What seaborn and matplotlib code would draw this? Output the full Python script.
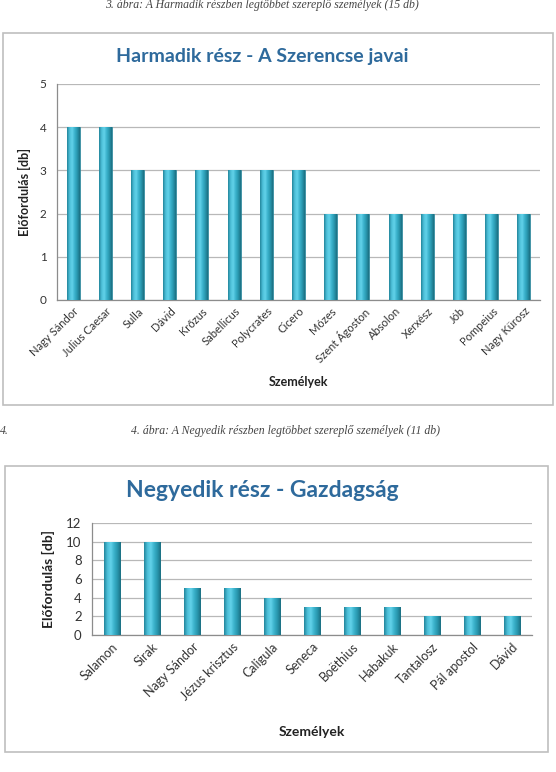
import numpy as np
import pandas as pd
import seaborn as sns
import matplotlib.pyplot as plt
from matplotlib.patches import Rectangle
from matplotlib.colors import LinearSegmentedColormap

# chart 1 data
names_3 = ['Nagy Sándor', 'Julius Caesar', 'Sulla', 'Dávid', 'Krőzus', 'Sabellicus',
           'Polycrates', 'Cicero', 'Mózes', 'Szent Ágoston', 'Absolon', 'Xerxész',
           'Jób', 'Pompeius', 'Nagy Kürosz']
counts_3 = [4, 4, 3, 3, 3, 3, 3, 3, 2, 2, 2, 2, 2, 2, 2]
yticks_3 = [0, 1, 2, 3, 4, 5]

# chart 2 data
names_4 = ['Salamon', 'Sirak', 'Nagy Sándor', 'Jézus krisztus', 'Caligula', 'Seneca',
           'Boëthius', 'Habakuk', 'Tantalosz', 'Pál apostol', 'Dávid']
counts_4 = [10, 10, 5, 5, 4, 3, 3, 3, 2, 2, 2]
yticks_4 = [0, 2, 4, 6, 8, 10, 12]

sns.set_style('white')
plt.rcParams['font.family'] = ['Lato', 'DejaVu Sans']

bar_cmap = LinearSegmentedColormap.from_list(
    'cyl', ['#23869c', '#4cbfd8', '#62d2ea', '#3bb2cc', '#2896ad', '#1b6f82'])
grad = np.linspace(0, 1, 64).reshape(1, -1)

fig = plt.figure(figsize=(5.56, 7.72), dpi=100)

# frames and captions
fig.add_artist(Rectangle((0.0054, 0.4754), 0.989, 0.4819, transform=fig.transFigure,
                         fill=False, edgecolor='#bfbfbf', linewidth=1.2))
fig.add_artist(Rectangle((0.009, 0.0259), 0.9766, 0.3705, transform=fig.transFigure,
                         fill=False, edgecolor='#bfbfbf', linewidth=1.2))
fig.text(0.471, 0.993, '3. ábra: A Harmadik részben legtöbbet szereplő személyek (15 db)',
         ha='center', va='center', fontsize=8.5, style='italic', color='#444444',
         family='Liberation Serif')
fig.text(0.514, 0.442, '4. ábra: A Negyedik részben legtöbbet szereplő személyek (11 db)',
         ha='center', va='center', fontsize=8.5, style='italic', color='#444444',
         family='Liberation Serif')
fig.text(0.0, 0.442, '4.', ha='left', va='center', fontsize=8.5, style='italic',
         color='#444444', family='Liberation Serif')


def draw(ax, names, counts, yticks, width, tick_fs, title, title_fs, title_y):
    df = pd.DataFrame({'Személyek': names, 'Előfordulás [db]': counts})
    sns.barplot(data=df, x='Személyek', y='Előfordulás [db]', ax=ax,
                color='#3bb2cc', width=width, edgecolor='#1f7d92', linewidth=0.5,
                zorder=3)
    for p in ax.patches:
        x0, y0 = p.get_x(), p.get_y()
        w, h = p.get_width(), p.get_height()
        im = ax.imshow(grad, cmap=bar_cmap, aspect='auto',
                       extent=(x0, x0 + w, y0, y0 + h), zorder=3.5)
        im.set_clip_path(p)
    ax.set_xlim(-0.5, len(names) - 0.5)
    ax.set_ylim(yticks[0], yticks[-1])
    ax.set_yticks(yticks)
    ax.yaxis.grid(True, color='#b8b8b8', linewidth=0.9, zorder=0)
    ax.set_axisbelow(True)
    for s in ['top', 'right']:
        ax.spines[s].set_visible(False)
    for s in ['left', 'bottom']:
        ax.spines[s].set_color('#8c8c8c')
        ax.spines[s].set_linewidth(0.9)
    ax.set_xticks(range(len(names)))
    ax.set_xticklabels(names, rotation=45, ha='right', rotation_mode='anchor',
                       fontsize=tick_fs, color='#333333')
    ax.set_xticks(np.arange(-0.5, len(names), 1), minor=True)
    ax.tick_params(axis='x', which='major', length=0, pad=4)
    ax.tick_params(axis='x', which='minor', length=4, color='#8c8c8c', direction='out')
    ax.tick_params(axis='y', length=4, color='#8c8c8c', direction='out',
                   labelsize=tick_fs + 0.5, labelcolor='#333333')
    ax.set_xlabel('Személyek', fontsize=tick_fs + 1, fontweight='bold', color='#222222')
    ax.set_ylabel('Előfordulás [db]', fontsize=tick_fs + 1, fontweight='bold',
                  color='#222222')
    fig.text(0.471, title_y, title, ha='center', va='center', fontsize=title_fs,
             fontweight='bold', color='#2e6a9c')


ax1 = fig.add_axes([0.1025, 0.6114, 0.8687, 0.2798])
draw(ax1, names_3, counts_3, yticks_3, 0.40, 8,
     'Harmadik rész - A Szerencse javai', 14, 0.927)
ax1.xaxis.labelpad = 8
ax1.yaxis.labelpad = 6

ax2 = fig.add_axes([0.1655, 0.1775, 0.7914, 0.1451])
draw(ax2, names_4, counts_4, yticks_4, 0.42, 9,
     'Negyedik rész - Gazdagság', 16.5, 0.364)
ax2.xaxis.labelpad = 17
ax2.yaxis.labelpad = 8

fig.savefig('out.png', dpi=100)
